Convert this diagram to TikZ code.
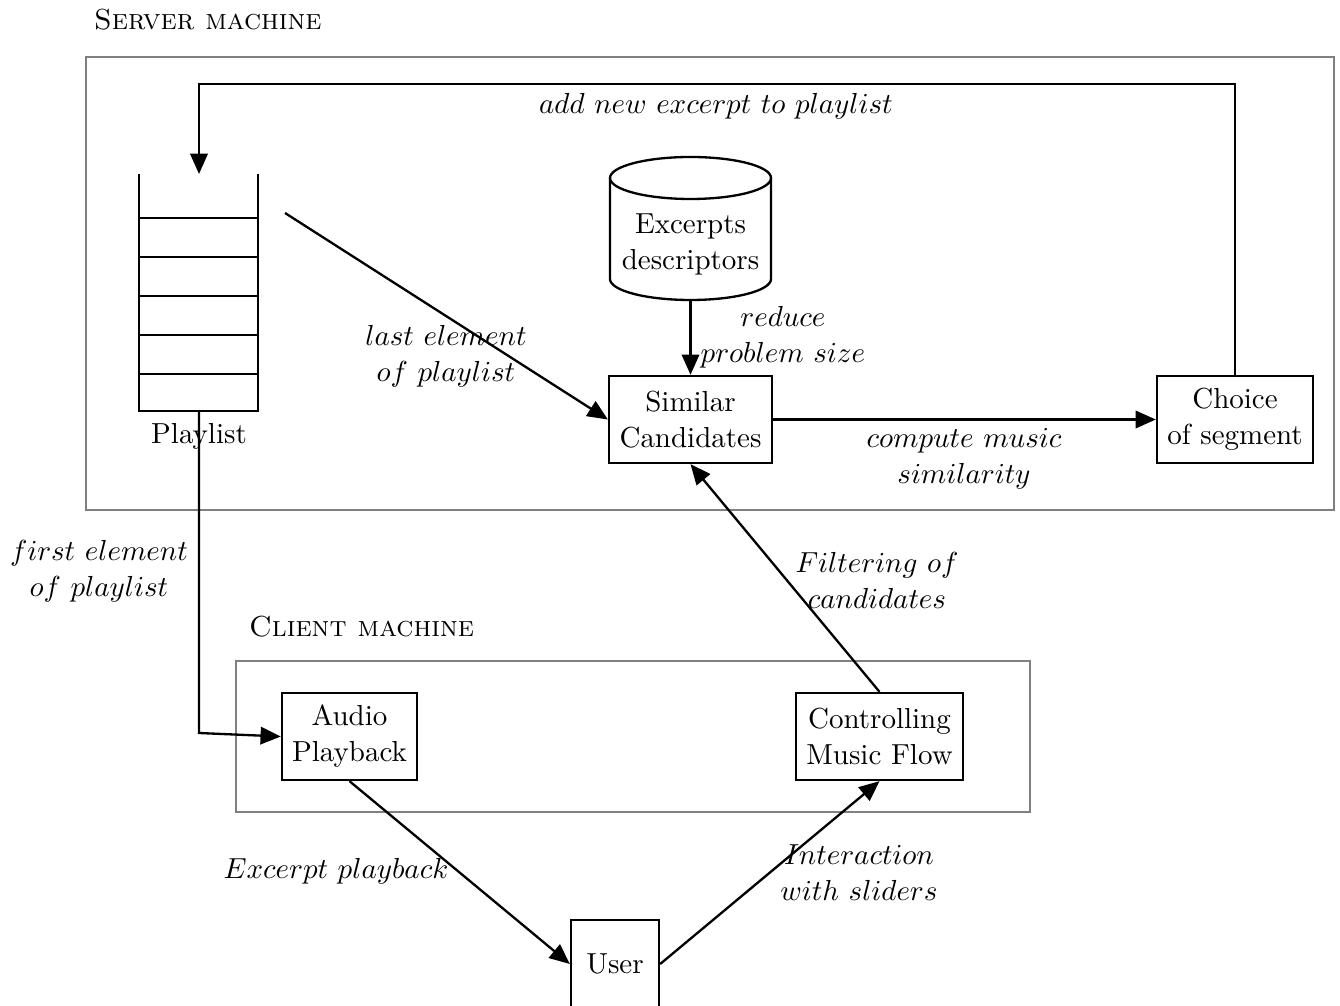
\documentclass[tikz,border=0pt]{standalone}
\usetikzlibrary{arrows.meta}
\def\pu{0.345pt}
\begin{document}
\begin{tikzpicture}[x=\pu,y=-\pu,
  line width=0.8pt,
  arr/.style={-{Triangle[length=7pt,width=6pt]}},
  box/.style={draw, align=center, minimum height=87*\pu, inner sep=2pt, font=\fontsize{10}{12.4}\selectfont},
  grp/.style={draw=gray, line width=0.8pt},
  lbl/.style={align=center, font=\fontsize{10}{12.4}\selectfont}]
\useasboundingbox (0,0) rectangle (1340,1006);

% group frames
\node[anchor=west, inner sep=0pt] (srvt) at (93,20) {\textsc{Server machine}};
\draw[grp] (86,57) rectangle (1334,510);
\node[anchor=west, inner sep=0pt] (clit) at (248,627) {\textsc{Client machine}};
\draw[grp] (236,661) rectangle (1030,812);

% playlist stack
\foreach \yy in {218,257,296,335,374} \draw (139,\yy) -- (258,\yy);
\draw (139,174) -- (139,411) -- (258,411) -- (258,174);
\coordinate (pltop) at (199,174);
\coordinate (plbot) at (199,411);
\coordinate (lastel) at (285,213);
\node (pl) at (199,436) {Playlist};

% database cylinder
\draw (610,178) -- (610,279) arc (180:0:80.5 and 21) -- (771,178);
\draw (690.5,178) ellipse (80.5 and 21);
\node[lbl, inner sep=0pt] (db) at (690.5,244) {Excerpts\\descriptors};
\coordinate (dbbot) at (690.5,300);

% boxes
\node[box, minimum width=163*\pu] (sim) at (690.5,419.5) {Similar\\Candidates};
\node[box, minimum width=156*\pu] (cho) at (1235,419.5) {Choice\\of segment};
\node[box, minimum width=135*\pu] (aud) at (349.5,736.5) {Audio\\Playback};
\node[box, minimum width=167*\pu] (ctl) at (879.5,736.5) {Controlling\\Music Flow};
\node[box, minimum width=88*\pu, minimum height=88*\pu] (usr) at (615,964) {User};

% connectors
\coordinate (topL) at (199,84);
\draw[arr] (cho.north) |- (topL) -- (pltop);
\draw[arr] (lastel) -- (sim.west);
\draw[arr] (dbbot) -- (sim.north);
\draw[arr] (sim.east) -- (cho.west);
\coordinate (bend) at (199,733);
\draw[arr] (plbot) -- (bend) -- (aud.west);
\draw[arr] (ctl.north) -- (sim.south);
\draw[arr] (aud.south) -- (usr.west);
\draw[arr] (usr.east) -- (ctl.south);

% labels
\node (l1) at (716,106) {$add\ new\ excerpt\ to\ playlist$};
\node[lbl] (l2) at (446,356) {$last\ element$\\$of\ playlist$};
\node[lbl] (l3) at (783,337) {$reduce$\\$problem\ size$};
\node[lbl] (l4) at (964,459) {$compute\ music$\\$similarity$};
\node[lbl] (l5) at (99,571) {$first\ element$\\$of\ playlist$};
\node[lbl] (l6) at (877,580) {$Filtering\ of$\\$candidates$};
\node (l7) at (336,871) {$Excerpt\ playback$};
\node[lbl] (l8) at (859,873) {$Interaction$\\$with\ sliders$};
\end{tikzpicture}
\end{document}
